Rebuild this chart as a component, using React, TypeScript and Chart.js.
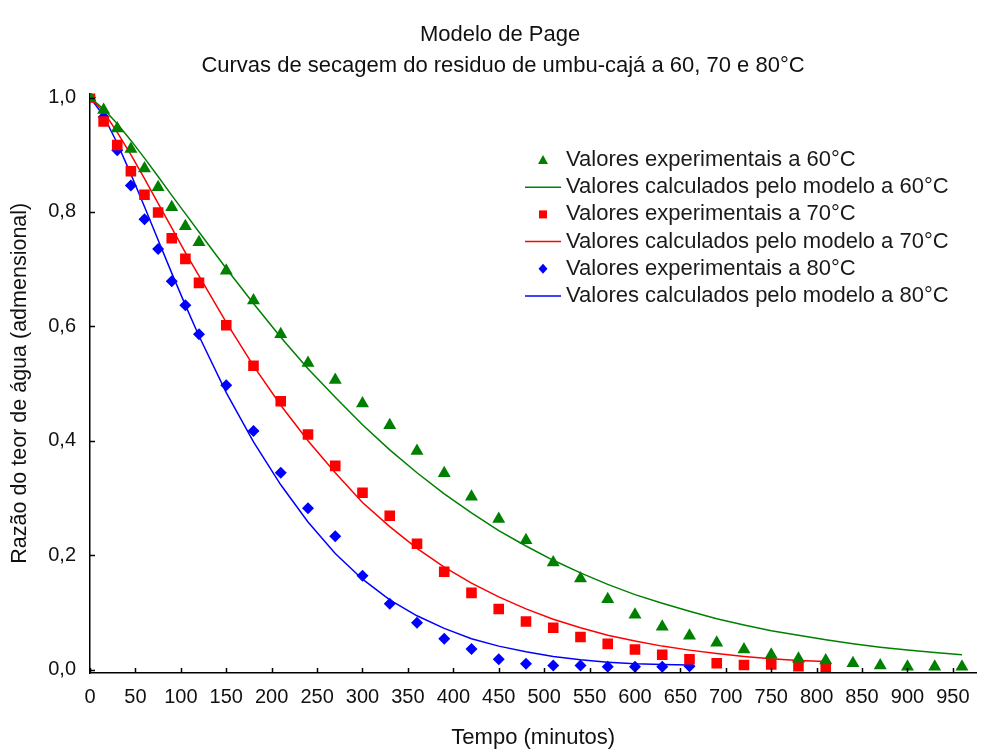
import React, { useEffect, useRef } from 'react';
import { Chart, registerables } from 'chart.js';

Chart.register(...registerables);

const FONT = '"Liberation Sans", Arial, Helvetica, sans-serif';

// Time (minutes)
const times60 = [0, 15, 30, 45, 60, 75, 90, 105, 120, 150, 180, 210, 240, 270, 300, 330, 360, 390, 420, 450, 480, 510, 540, 570, 600, 630, 660, 690, 720, 750, 780, 810, 840, 870, 900, 930, 960];
const times70 = [0, 15, 30, 45, 60, 75, 90, 105, 120, 150, 180, 210, 240, 270, 300, 330, 360, 390, 420, 450, 480, 510, 540, 570, 600, 630, 660, 690, 720, 750, 780, 810];
const times80 = [0, 15, 30, 45, 60, 75, 90, 105, 120, 150, 180, 210, 240, 270, 300, 330, 360, 390, 420, 450, 480, 510, 540, 570, 600, 630, 660];

// Experimental values
const exp60 = [1.000, 0.978, 0.946, 0.910, 0.876, 0.843, 0.808, 0.775, 0.747, 0.697, 0.645, 0.586, 0.536, 0.506, 0.465, 0.427, 0.382, 0.343, 0.302, 0.263, 0.226, 0.187, 0.159, 0.123, 0.096, 0.075, 0.059, 0.047, 0.035, 0.026, 0.019, 0.016, 0.011, 0.007, 0.005, 0.005, 0.005];
const exp70 = [1.000, 0.958, 0.917, 0.871, 0.830, 0.799, 0.754, 0.718, 0.676, 0.602, 0.531, 0.469, 0.411, 0.356, 0.309, 0.269, 0.220, 0.171, 0.134, 0.106, 0.084, 0.073, 0.057, 0.045, 0.035, 0.026, 0.018, 0.011, 0.008, 0.009, 0.006, 0.005];
const exp80 = [1.000, 0.966, 0.908, 0.846, 0.787, 0.735, 0.679, 0.637, 0.586, 0.497, 0.417, 0.344, 0.282, 0.233, 0.164, 0.115, 0.082, 0.054, 0.036, 0.018, 0.010, 0.007, 0.007, 0.005, 0.005, 0.005, 0.006];

// Values calculated by the model
const calc60 = [1.000, 0.980, 0.954, 0.925, 0.894, 0.862, 0.829, 0.797, 0.765, 0.701, 0.640, 0.581, 0.526, 0.476, 0.428, 0.384, 0.344, 0.307, 0.274, 0.243, 0.216, 0.191, 0.169, 0.149, 0.131, 0.116, 0.102, 0.089, 0.078, 0.068, 0.060, 0.052, 0.045, 0.039, 0.034, 0.030, 0.026];
const calc70 = [1.000, 0.975, 0.939, 0.900, 0.858, 0.815, 0.772, 0.729, 0.688, 0.607, 0.531, 0.462, 0.400, 0.344, 0.292, 0.250, 0.212, 0.179, 0.151, 0.127, 0.106, 0.088, 0.073, 0.060, 0.050, 0.041, 0.034, 0.028, 0.023, 0.019, 0.016, 0.014];
const calc80 = [1.000, 0.968, 0.920, 0.866, 0.809, 0.751, 0.693, 0.637, 0.583, 0.484, 0.398, 0.323, 0.258, 0.203, 0.158, 0.122, 0.094, 0.072, 0.054, 0.041, 0.031, 0.023, 0.017, 0.013, 0.010, 0.009, 0.008];

const xTickValues = [0, 50, 100, 150, 200, 250, 300, 350, 400, 450, 500, 550, 600, 650, 700, 750, 800, 850, 900, 950];
const yTickValues = [0, 0.2, 0.4, 0.6, 0.8, 1.0];

const titleText = 'Modelo de Page';
const subtitleText = 'Curvas de secagem do residuo de umbu-cajá a 60, 70 e 80°C';
const xTitle = 'Tempo (minutos)';
const yTitle = 'Razão do teor de água (admensional)';

const GREEN = '#008000';
const RED = '#ff0000';
const BLUE = '#0000ff';

const pts = (t: number[], v: number[]) => t.map((x, i) => ({ x, y: v[i] }));

export default function App() {
  const ref = useRef<HTMLCanvasElement>(null);

  useEffect(() => {
    const canvas = ref.current;
    if (!canvas) return;

    const titlePlugin = {
      id: 'twoLineTitle',
      afterDraw(chart: any) {
        const ctx = chart.ctx;
        ctx.save();
        ctx.fillStyle = '#111';
        ctx.textAlign = 'center';
        ctx.textBaseline = 'middle';
        ctx.font = `22px ${FONT}`;
        ctx.fillText(titleText, 500, 35);
        ctx.fillText(subtitleText, 503, 66);
        ctx.restore();
      },
    };

    const insideTicks = {
      id: 'insideTicks',
      afterDraw(chart: any) {
        const ctx = chart.ctx;
        const { left, bottom } = chart.chartArea;
        const xs = chart.scales.x;
        const ys = chart.scales.y;
        ctx.save();
        ctx.strokeStyle = '#000';
        ctx.lineWidth = 1.5;
        ctx.beginPath();
        xTickValues.forEach((v) => {
          const px = Math.round(xs.getPixelForValue(v)) + 0.5;
          ctx.moveTo(px, bottom);
          ctx.lineTo(px, bottom - 5);
        });
        yTickValues.forEach((v) => {
          const py = Math.round(ys.getPixelForValue(v)) + 0.5;
          ctx.moveTo(left, py);
          ctx.lineTo(left + 5, py);
        });
        ctx.stroke();
        ctx.restore();
      },
    };

    const legendPlugin = {
      id: 'customLegend',
      afterDraw(chart: any) {
        const ctx = chart.ctx;
        const ds = chart.data.datasets;
        const x0 = 543;
        const y0 = 160;
        const step = 27.2;
        ctx.save();
        ctx.font = `22px ${FONT}`;
        ctx.textBaseline = 'middle';
        ctx.textAlign = 'left';
        ds.forEach((d: any, i: number) => {
          const y = y0 + i * step;
          const color = d.borderColor;
          ctx.fillStyle = color;
          ctx.strokeStyle = color;
          if (d.showLine) {
            ctx.lineWidth = 1.5;
            ctx.beginPath();
            ctx.moveTo(x0 - 18, y);
            ctx.lineTo(x0 + 18, y);
            ctx.stroke();
          } else if (d.pointStyle === 'triangle') {
            ctx.beginPath();
            ctx.moveTo(x0, y - 5);
            ctx.lineTo(x0 + 5, y + 4);
            ctx.lineTo(x0 - 5, y + 4);
            ctx.closePath();
            ctx.fill();
          } else if (d.pointStyle === 'rect') {
            ctx.fillRect(x0 - 4, y - 4, 8, 8);
          } else {
            ctx.beginPath();
            ctx.moveTo(x0, y - 5);
            ctx.lineTo(x0 + 4.5, y);
            ctx.lineTo(x0, y + 5);
            ctx.lineTo(x0 - 4.5, y);
            ctx.closePath();
            ctx.fill();
          }
          ctx.fillStyle = '#1a1a1a';
          ctx.fillText(d.label, x0 + 23, y);
        });
        ctx.restore();
      },
    };

    const expSet = (label: string, t: number[], v: number[], color: string, style: string, r: number) => ({
      label,
      data: pts(t, v),
      showLine: false,
      pointStyle: style,
      pointRadius: r,
      pointBorderWidth: 0,
      backgroundColor: color,
      borderColor: color,
      order: 0,
    });
    const calcSet = (label: string, t: number[], v: number[], color: string) => ({
      label,
      data: pts(t, v),
      showLine: true,
      pointRadius: 0,
      borderWidth: 1.5,
      borderColor: color,
      backgroundColor: color,
      tension: 0,
      fill: false,
      order: 1,
    });

    const chart = new Chart(canvas, {
      type: 'scatter',
      data: {
        datasets: [
          expSet('Valores experimentais a 60°C', times60, exp60, GREEN, 'triangle', 7.5),
          calcSet('Valores calculados pelo modelo a 60°C', times60, calc60, GREEN),
          expSet('Valores experimentais a 70°C', times70, exp70, RED, 'rect', 7.5),
          calcSet('Valores calculados pelo modelo a 70°C', times70, calc70, RED),
          expSet('Valores experimentais a 80°C', times80, exp80, BLUE, 'rectRot', 6),
          calcSet('Valores calculados pelo modelo a 80°C', times80, calc80, BLUE),
        ] as any,
      },
      options: {
        animation: false,
        responsive: false,
        maintainAspectRatio: false,
        layout: { padding: { top: 93.5, right: 4, left: 0, bottom: 0 } },
        plugins: {
          legend: { display: false },
          title: { display: false },
          tooltip: { enabled: false },
        },
        scales: {
          x: {
            type: 'linear',
            min: 0,
            max: 976,
            afterBuildTicks: (s: any) => {
              s.ticks = xTickValues.map((v) => ({ value: v }));
            },
            afterFit: (s: any) => {
              s.height = 80;
            },
            grid: { display: false, drawTicks: false },
            border: { display: true, color: '#000', width: 1.5 },
            ticks: {
              font: { family: FONT, size: 20 },
              color: '#111',
              padding: 12,
              maxRotation: 0,
              autoSkip: false,
              callback: (v: any) => String(v),
            },
            title: {
              display: true,
              text: xTitle,
              color: '#111',
              font: { family: FONT, size: 22 },
              padding: { top: 0, bottom: 2 },
            },
          },
          y: {
            type: 'linear',
            min: -0.006,
            max: 1.007,
            afterBuildTicks: (s: any) => {
              s.ticks = yTickValues.map((v) => ({ value: v }));
            },
            afterFit: (s: any) => {
              s.width = 90;
            },
            grid: { display: false, drawTicks: false },
            border: { display: true, color: '#000', width: 1.5 },
            ticks: {
              font: { family: FONT, size: 20 },
              color: '#111',
              padding: 14,
              callback: (v: any) => Number(v).toFixed(1).replace('.', ','),
            },
            title: {
              display: true,
              text: yTitle,
              color: '#111',
              font: { family: FONT, size: 21.5 },
              padding: { top: 7, bottom: 0 },
            },
          },
        },
      } as any,
      plugins: [titlePlugin, insideTicks, legendPlugin],
    });

    return () => {
      chart.destroy();
    };
  }, []);

  return (
    <div style={{ position: 'absolute', left: 0, top: 0, width: 984, height: 753, background: '#fff' }}>
      <canvas ref={ref} width={984} height={753} style={{ display: 'block', width: 984, height: 753 }} />
    </div>
  );
}
